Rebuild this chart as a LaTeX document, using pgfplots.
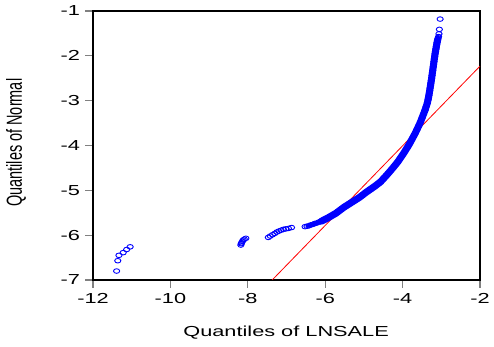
\documentclass[border=0pt]{standalone}
\usepackage{fontspec}
\setmainfont{Liberation Sans}
\usepackage{pgfplots}
\pgfplotsset{compat=1.18}
\definecolor{qblue}{RGB}{0,0,255}
\definecolor{qred}{RGB}{255,0,0}
\definecolor{tickgrey}{RGB}{128,128,128}
\newcommand{\sx}[1]{\scalebox{1.5}[1]{#1}}

\pgfplotstableread{
x y
-6.52 -5.81
-6.47 -5.80
-6.42 -5.79
-6.37 -5.77
-6.32 -5.76
-6.27 -5.74
-6.22 -5.73
-6.17 -5.71
-6.12 -5.69
-6.07 -5.68
-6.02 -5.66
-5.97 -5.63
-5.92 -5.61
-5.87 -5.59
-5.82 -5.56
-5.77 -5.54
-5.72 -5.51
-5.67 -5.47
-5.62 -5.44
-5.57 -5.41
-5.52 -5.38
-5.47 -5.35
-5.42 -5.33
-5.37 -5.30
-5.32 -5.27
-5.27 -5.25
-5.22 -5.22
-5.17 -5.19
-5.12 -5.16
-5.07 -5.13
-5.02 -5.09
-4.97 -5.06
-4.92 -5.03
-4.87 -5.00
-4.82 -4.97
-4.77 -4.94
-4.72 -4.91
-4.67 -4.88
-4.62 -4.85
-4.57 -4.81
-4.52 -4.76
-4.47 -4.71
-4.42 -4.67
-4.37 -4.62
-4.32 -4.57
-4.27 -4.52
-4.22 -4.47
-4.17 -4.42
-4.12 -4.36
-4.07 -4.30
-4.02 -4.23
-3.97 -4.17
-3.92 -4.10
-3.87 -4.04
-3.82 -3.96
-3.77 -3.88
-3.72 -3.80
-3.67 -3.72
-3.62 -3.63
-3.58 -3.56
-3.54 -3.48
-3.50 -3.39
-3.46 -3.30
-3.42 -3.21
-3.39 -3.13
-3.36 -3.05
-3.34 -2.98
-3.33 -2.93
-3.32 -2.88
-3.31 -2.83
-3.30 -2.78
-3.29 -2.72
-3.28 -2.67
-3.27 -2.61
-3.26 -2.56
-3.25 -2.50
-3.24 -2.44
-3.23 -2.38
-3.22 -2.32
-3.21 -2.25
-3.20 -2.19
-3.19 -2.13
-3.18 -2.07
-3.17 -2.01
-3.16 -1.95
-3.15 -1.90
-3.14 -1.85
-3.13 -1.80
-3.12 -1.75
-3.11 -1.70
-3.10 -1.66
-3.09 -1.63
-3.08 -1.60
-3.07 -1.57
}\mainband

\pgfplotstableread{
x y
-6.10 -5.69
-5.92 -5.61
-5.72 -5.51
-5.52 -5.38
-5.32 -5.27
-5.12 -5.16
-4.92 -5.03
-4.72 -4.91
-4.57 -4.81
-4.42 -4.67
-4.27 -4.52
-4.12 -4.36
-3.97 -4.17
-3.82 -3.96
-3.67 -3.72
-3.54 -3.48
-3.42 -3.21
-3.36 -3.05
-3.32 -2.88
-3.28 -2.67
-3.24 -2.44
-3.20 -2.19
-3.16 -1.95
-3.12 -1.75
-3.09 -1.63
}\bandline

\pgfplotstableread{
x y
-6.45 -5.79
-6.30 -5.76
-6.12 -5.69
}\bandstart

\pgfplotstableread{
x y
-11.39 -6.80
-11.36 -6.57
-11.33 -6.45
-11.22 -6.39
-11.13 -6.32
-11.04 -6.26
-8.18 -6.22
-8.17 -6.19
-8.16 -6.17
-8.14 -6.14
-8.12 -6.11
-8.09 -6.09
-8.05 -6.07
-7.47 -6.05
-7.42 -6.02
-7.36 -5.99
-7.30 -5.96
-7.25 -5.93
-7.20 -5.91
-7.14 -5.89
-7.08 -5.87
-7.02 -5.86
-6.95 -5.85
-6.87 -5.83
-3.06 -1.51
-3.05 -1.41
-3.03 -1.18
}\sparse

\begin{document}
\fontsize{14.5}{17}\selectfont
\begin{tikzpicture}
\begin{axis}[
  scale only axis, width=387pt, height=269pt,
  xmin=-12, xmax=-2, ymin=-7, ymax=-1,
  xtick={-12,-10,-8,-6,-4,-2},
  xticklabels={\sx{-12},\sx{-10},\sx{-8},\sx{-6},\sx{-4},\sx{-2}},
  ytick={-7,-6,-5,-4,-3,-2,-1},
  yticklabels={\sx{-7},\sx{-6},\sx{-5},\sx{-4},\sx{-3},\sx{-2},\sx{-1}},
  xtick pos=bottom, ytick pos=left,
  tick align=outside,
  major tick length=8pt,
  tick style={tickgrey, line width=1.2pt},
  axis line style={black, line width=1.5pt},
  xlabel={\sx{Quantiles of LNSALE}},
  ylabel={\scalebox{1}[1.5]{Quantiles of Normal}},
  xlabel style={at={(axis description cs:0.499,-0.197)}, anchor=center},
  ylabel style={at={(axis description cs:-0.199,0.51)}, anchor=center},
]
\addplot[qred, line width=0.8pt] coordinates {(-7.37,-7) (-2,-2.23)};
\addplot[qblue, line width=4pt, line join=round, line cap=round, mark=none] table[x=x,y=y] {\bandstart};
\addplot[qblue, line width=7pt, line join=round, line cap=round, mark=none] table[x=x,y=y] {\bandline};
\addplot[qblue, only marks, mark=o, mark size=2.3pt, mark options={xscale=1.35, line width=0.9pt}] table[x=x,y=y] {\mainband};
\addplot[qblue, only marks, mark=o, mark size=2.3pt, mark options={xscale=1.35, line width=0.9pt}] table[x=x,y=y] {\sparse};
\end{axis}
\pgfresetboundingbox
\path (-93pt,-67pt) rectangle (401pt,280pt);
\end{tikzpicture}
\end{document}
